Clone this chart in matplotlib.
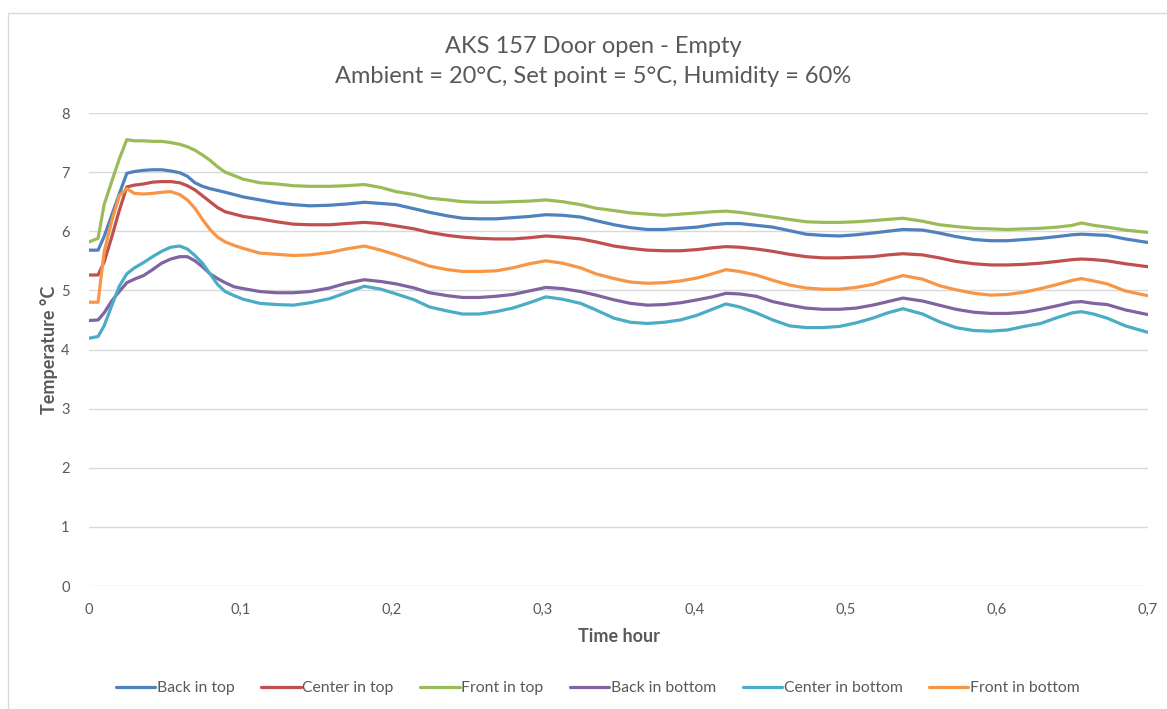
import matplotlib
matplotlib.use("Agg")
import matplotlib.pyplot as plt
from matplotlib.patches import Rectangle
from matplotlib.ticker import FuncFormatter, MultipleLocator

plt.rcParams['font.family'] = ['Lato', 'DejaVu Sans']

time_h = [0, 0.006, 0.010, 0.015, 0.020, 0.025, 0.030, 0.036, 0.042, 0.048, 0.054, 0.060, 0.065,
          0.070, 0.075, 0.080, 0.085, 0.090, 0.096, 0.102, 0.113, 0.124, 0.135, 0.146, 0.159, 0.170,
          0.182, 0.193, 0.203, 0.215, 0.225, 0.237, 0.247, 0.258, 0.269, 0.280, 0.291, 0.302, 0.313,
          0.325, 0.335, 0.347, 0.358, 0.369, 0.380, 0.391, 0.402, 0.412, 0.421, 0.430, 0.441, 0.452,
          0.463, 0.474, 0.485, 0.496, 0.507, 0.518, 0.528, 0.538, 0.551, 0.562, 0.573, 0.585, 0.596,
          0.607, 0.618, 0.629, 0.640, 0.650, 0.656, 0.664, 0.673, 0.685, 0.700]

back_top = [5.68, 5.68, 5.91, 6.27, 6.63, 6.98, 7.01, 7.03, 7.04, 7.04, 7.02, 6.99, 6.93,
            6.82, 6.76, 6.72, 6.69, 6.66, 6.62, 6.58, 6.53, 6.48, 6.45, 6.43, 6.44, 6.46,
            6.49, 6.47, 6.45, 6.38, 6.32, 6.26, 6.22, 6.21, 6.21, 6.23, 6.25, 6.28, 6.27,
            6.24, 6.18, 6.11, 6.06, 6.03, 6.03, 6.05, 6.07, 6.11, 6.13, 6.13, 6.10, 6.07,
            6.01, 5.95, 5.93, 5.92, 5.94, 5.97, 6.00, 6.03, 6.02, 5.97, 5.91, 5.86, 5.84,
            5.84, 5.86, 5.88, 5.91, 5.94, 5.95, 5.94, 5.93, 5.87, 5.81]

center_top = [5.26, 5.26, 5.48, 5.90, 6.35, 6.75, 6.78, 6.80, 6.83, 6.84, 6.84, 6.82, 6.77,
              6.70, 6.60, 6.50, 6.40, 6.33, 6.29, 6.25, 6.21, 6.16, 6.12, 6.11, 6.11, 6.13,
              6.15, 6.13, 6.09, 6.04, 5.98, 5.93, 5.90, 5.88, 5.87, 5.87, 5.89, 5.92, 5.90,
              5.87, 5.82, 5.75, 5.71, 5.68, 5.67, 5.67, 5.69, 5.72, 5.74, 5.73, 5.70, 5.66,
              5.61, 5.57, 5.55, 5.55, 5.56, 5.57, 5.60, 5.62, 5.60, 5.55, 5.49, 5.45, 5.43,
              5.43, 5.44, 5.46, 5.49, 5.52, 5.53, 5.52, 5.50, 5.45, 5.40]

front_top = [5.82, 5.88, 6.45, 6.84, 7.22, 7.55, 7.53, 7.53, 7.52, 7.52, 7.50, 7.47, 7.43,
             7.37, 7.29, 7.20, 7.09, 7.00, 6.94, 6.88, 6.82, 6.80, 6.77, 6.76, 6.76, 6.77,
             6.79, 6.74, 6.67, 6.62, 6.56, 6.53, 6.50, 6.49, 6.49, 6.50, 6.51, 6.53, 6.50,
             6.45, 6.39, 6.35, 6.31, 6.29, 6.27, 6.29, 6.31, 6.33, 6.34, 6.32, 6.28, 6.24,
             6.20, 6.16, 6.15, 6.15, 6.16, 6.18, 6.20, 6.22, 6.17, 6.11, 6.08, 6.05, 6.04,
             6.03, 6.04, 6.05, 6.07, 6.10, 6.14, 6.10, 6.07, 6.02, 5.98]

back_bottom = [4.49, 4.50, 4.62, 4.82, 4.98, 5.13, 5.19, 5.25, 5.35, 5.46, 5.53, 5.57, 5.57,
               5.50, 5.40, 5.28, 5.20, 5.13, 5.06, 5.03, 4.98, 4.96, 4.96, 4.98, 5.04, 5.12,
               5.18, 5.15, 5.11, 5.04, 4.96, 4.91, 4.88, 4.88, 4.90, 4.93, 4.99, 5.05, 5.03,
               4.98, 4.92, 4.84, 4.78, 4.75, 4.76, 4.79, 4.84, 4.89, 4.95, 4.94, 4.90, 4.81,
               4.75, 4.70, 4.68, 4.68, 4.70, 4.75, 4.81, 4.87, 4.82, 4.75, 4.68, 4.63, 4.61,
               4.61, 4.63, 4.68, 4.74, 4.80, 4.81, 4.78, 4.76, 4.67, 4.59]

center_bottom = [4.19, 4.22, 4.40, 4.74, 5.07, 5.28, 5.38, 5.47, 5.57, 5.66, 5.73, 5.75, 5.70,
                 5.59, 5.46, 5.28, 5.10, 4.98, 4.91, 4.85, 4.78, 4.76, 4.75, 4.79, 4.86, 4.96,
                 5.07, 5.02, 4.94, 4.84, 4.72, 4.65, 4.60, 4.60, 4.64, 4.70, 4.79, 4.89, 4.85,
                 4.78, 4.67, 4.53, 4.46, 4.44, 4.46, 4.50, 4.58, 4.68, 4.77, 4.72, 4.62, 4.50,
                 4.40, 4.37, 4.37, 4.39, 4.45, 4.53, 4.62, 4.69, 4.60, 4.47, 4.37, 4.32, 4.31,
                 4.33, 4.39, 4.44, 4.54, 4.62, 4.64, 4.60, 4.53, 4.40, 4.29]

front_bottom = [4.80, 4.80, 5.65, 6.17, 6.60, 6.72, 6.64, 6.63, 6.64, 6.66, 6.67, 6.62, 6.53,
                6.39, 6.20, 6.03, 5.90, 5.82, 5.76, 5.71, 5.63, 5.61, 5.59, 5.60, 5.64, 5.70,
                5.75, 5.68, 5.60, 5.50, 5.41, 5.35, 5.32, 5.32, 5.33, 5.38, 5.45, 5.50, 5.46,
                5.38, 5.28, 5.20, 5.14, 5.12, 5.13, 5.16, 5.21, 5.28, 5.35, 5.32, 5.26, 5.17,
                5.09, 5.04, 5.02, 5.02, 5.05, 5.10, 5.18, 5.25, 5.19, 5.08, 5.01, 4.95, 4.92,
                4.93, 4.97, 5.03, 5.10, 5.17, 5.20, 5.16, 5.11, 4.99, 4.91]

series_names = ["Back in top", "Center in top", "Front in top",
                "Back in bottom", "Center in bottom", "Front in bottom"]
series_values = [back_top, center_top, front_top, back_bottom, center_bottom, front_bottom]
colors = ["#4F81BD", "#C0504D", "#9BBB59", "#8064A2", "#4BACC6", "#F79646"]

title = "AKS 157 Door open - Empty\nAmbient = 20°C, Set point = 5°C, Humidity = 60%"
x_label = "Time hour"
y_label = "Temperature °C"

W, H = 1167, 709
fig = plt.figure(figsize=(W / 100, H / 100), dpi=100)
fig.patch.set_facecolor("white")
fig.patches.append(Rectangle((8 / W, -0.05), 1.1, 1 - 13 / H + 0.05, transform=fig.transFigure,
                             fill=False, edgecolor="#D9D9D9", linewidth=1.0))

ax = fig.add_axes([89 / W, 1 - 586 / H, (1148 - 89) / W, (586 - 113) / H])
for name, vals, c in zip(series_names, series_values, colors):
    ax.plot(time_h, vals, color=c, linewidth=2.3, label=name, solid_joinstyle="round",
            solid_capstyle="round")

ax.set_xlim(0, 0.7)
ax.set_ylim(0, 8)
ax.xaxis.set_major_locator(MultipleLocator(0.1))
ax.yaxis.set_major_locator(MultipleLocator(1))
fmt = FuncFormatter(lambda v, p: ("%g" % round(v, 3)).replace(".", ","))
ax.xaxis.set_major_formatter(fmt)
ax.yaxis.set_major_formatter(fmt)
ax.grid(axis="y", color="#D9D9D9", linewidth=1.0)
ax.set_axisbelow(True)
for s in ax.spines.values():
    s.set_visible(False)
ax.tick_params(length=0, labelsize=10.5, colors="#595959")
ax.tick_params(axis="x", pad=12)
ax.tick_params(axis="y", pad=14)
ax.set_xlabel(x_label, fontsize=13, fontweight="bold", color="#595959", labelpad=8)
ax.set_ylabel(y_label, fontsize=13, fontweight="bold", color="#595959", labelpad=2)

fig.text(593 / W, 1 - 61.5 / H, title, ha="center", va="center", fontsize=17, color="#595959",
         linespacing=1.55)

leg = fig.legend(loc="center", bbox_to_anchor=(598 / W, 1 - 688 / H), ncol=6, frameon=False,
                 fontsize=11.3, handlelength=2.5, handletextpad=0.1, columnspacing=1.7)
for t in leg.get_texts():
    t.set_color("#595959")

fig.savefig("out.png", dpi=100, facecolor="white")
